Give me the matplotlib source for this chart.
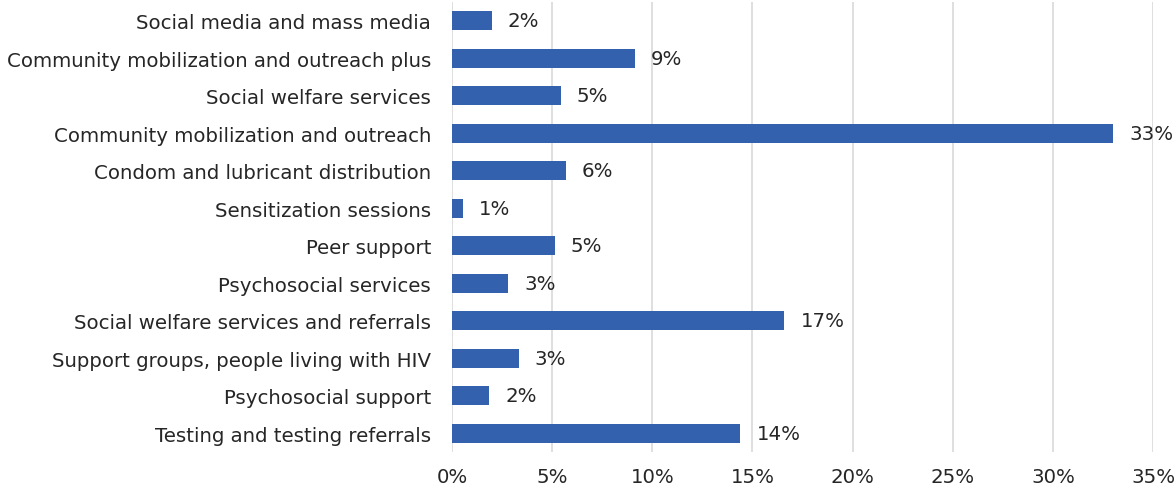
import matplotlib
matplotlib.use("Agg")
import matplotlib.pyplot as plt
from matplotlib.ticker import FuncFormatter, MultipleLocator

categories = [
    "Social media and mass media",
    "Community mobilization and outreach plus",
    "Social welfare services",
    "Community mobilization and outreach",
    "Condom and lubricant distribution",
    "Sensitization sessions",
    "Peer support",
    "Psychosocial services",
    "Social welfare services and referrals",
    "Support groups, people living with HIV",
    "Psychosocial support",
    "Testing and testing referrals",
]
shares = [1.98, 9.13, 5.42, 33.0, 5.69, 0.53, 5.14, 2.80, 16.6, 3.34, 1.85, 14.4]

bar_color = "#3461ae"
text_color = "#262626"
grid_color = "#d9d9d9"

plt.rcParams["font.family"] = ["DejaVu Sans"]
fs = 14.2

fig = plt.figure(figsize=(11.75, 4.89), dpi=100)
ax = fig.add_axes([0.3847, 0.0736, 0.5966, 0.9203])

y = list(range(len(categories)))
ax.barh(y, shares, height=0.5, color=bar_color, zorder=3)

for yi, v in zip(y, shares):
    ax.annotate(f"{v:.0f}%", xy=(v, yi), xytext=(11.5, 0), textcoords="offset points",
                va="center", ha="left", fontsize=fs, color=text_color, zorder=4)

ax.set_yticks(y)
ax.set_yticklabels(categories, fontsize=fs, color=text_color)
ax.set_ylim(len(categories) - 0.5, -0.5)

ax.set_xlim(0, 35)
ax.xaxis.set_major_locator(MultipleLocator(5))
ax.xaxis.set_major_formatter(FuncFormatter(lambda v, _: f"{v:.0f}%"))
ax.tick_params(axis="x", labelsize=fs, colors=text_color, length=0, pad=11)
ax.tick_params(axis="y", length=0, pad=15)

ax.grid(axis="x", color=grid_color, linewidth=1.2, zorder=0)
for s in ax.spines.values():
    s.set_visible(False)

fig.savefig("out.png", dpi=100, facecolor="white")
